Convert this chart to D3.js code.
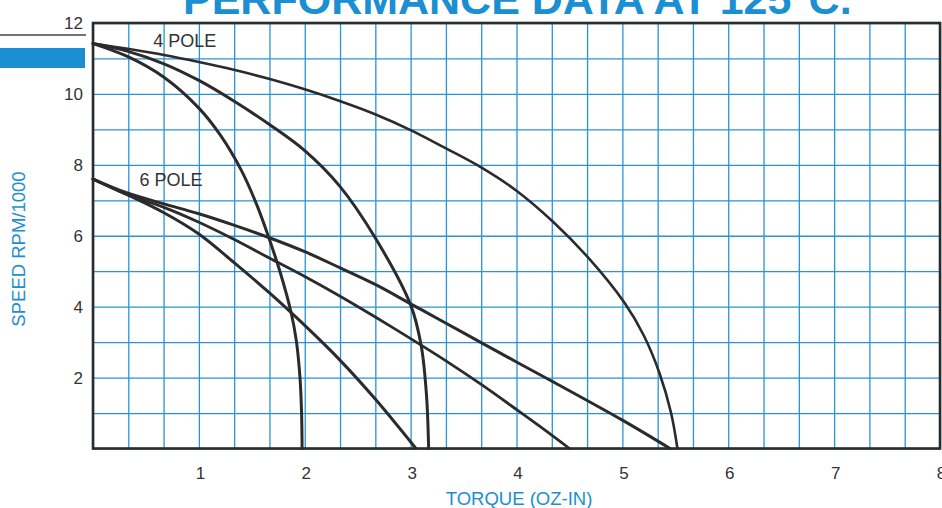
<!DOCTYPE html>
<html>
<head>
<meta charset="utf-8">
<script src="https://cdn.jsdelivr.net/npm/d3@7"></script>
<style>
  html, body { margin: 0; padding: 0; background: #fff; }
  svg { display: block; font-family: "Liberation Sans", Arial, Helvetica, sans-serif; }
</style>
</head>
<body>
<svg id="chart" width="942" height="508"></svg>
<script>
// ---- data (torque oz-in, speed rpm/1000) ----
const xTickValues = [1, 2, 3, 4, 5, 6, 7, 8];
const yTickValues = [2, 4, 6, 8, 10, 12];
const xDomain = [0, 8];
const yDomain = [0, 12];

const pole4_a = [[0,11.42],[0.33,11.05],[0.67,10.47],[1.0,9.6],[1.2,8.85],[1.4,7.85],[1.55,6.85],[1.66,5.95],[1.77,4.95],[1.87,3.85],[1.92,3.05],[1.955,2.0],[1.97,1.0],[1.975,0]];
const pole4_b = [[0,11.42],[0.33,11.2],[0.67,10.85],[1.0,10.38],[1.33,9.8],[1.67,9.13],[2.0,8.4],[2.33,7.4],[2.67,5.92],[3.0,4.05],[3.1,2.9],[3.15,1.5],[3.17,0]];
const pole4_c = [[0,11.42],[0.33,11.27],[0.67,11.1],[1.0,10.9],[1.33,10.68],[1.67,10.42],[2.0,10.13],[2.33,9.8],[2.67,9.42],[3.0,8.98],[3.33,8.47],[3.67,7.92],[4.0,7.27],[4.35,6.38],[4.69,5.34],[5.02,4.11],[5.2,3.2],[5.35,2.13],[5.46,1.0],[5.52,0]];

const pole6_a = [[0,7.6],[0.33,7.15],[0.67,6.65],[1.0,6.05],[1.33,5.25],[1.67,4.38],[2.0,3.47],[2.33,2.5],[2.67,1.38],[3.05,0]];
const pole6_b = [[0,7.6],[0.33,7.15],[0.67,6.8],[1.0,6.38],[1.33,5.9],[1.66,5.38],[2.0,4.85],[2.33,4.3],[2.67,3.7],[3.0,3.1],[3.33,2.48],[3.67,1.8],[4.0,1.1],[4.25,0.56],[4.5,0]];
const pole6_c = [[0,7.6],[0.33,7.2],[0.67,6.9],[1.0,6.62],[1.33,6.3],[1.66,5.95],[2.0,5.55],[2.33,5.1],[2.67,4.62],[3.0,4.08],[3.33,3.54],[3.67,2.98],[4.0,2.44],[4.34,1.89],[5.0,0.8],[5.45,0]];

const labels = [
  { text: "4 POLE", x: 0.57, y: 11.32 },
  { text: "6 POLE", x: 0.44, y: 7.40 }
];
const titleText = "PERFORMANCE DATA AT 125°C.";
const xTitle = "TORQUE (OZ-IN)";
const yTitle = "SPEED RPM/1000";

// ---- drawing ----
const BLUE = "#1b8fd2";
const GRID = "#2a93d5";
const INK = "#2b2b2b";
const svg = d3.select("#chart");

const x = d3.scaleLinear().domain(xDomain).range([93, 940]);
const y = d3.scaleLinear().domain(yDomain).range([448.5, 23]);

// left decoration
svg.append("line").attr("x1", 0).attr("x2", 86).attr("y1", 35).attr("y2", 35)
  .attr("stroke", "#444").attr("stroke-width", 1.5);
svg.append("rect").attr("x", 0).attr("y", 48).attr("width", 85).attr("height", 20).attr("fill", BLUE);

// title (partially cut at top, as in the source)
svg.append("text").attr("x", 183).attr("y", 14)
  .attr("font-size", 43).attr("font-weight", "bold").attr("fill", BLUE)
  .text(titleText);

// grid
const vGrid = d3.range(0, 25).map(i => i / 3);
const hGrid = d3.range(0, 13);
svg.append("g").attr("transform", `translate(0,${y(0)})`)
  .call(d3.axisBottom(x).tickValues(vGrid).tickSize(-(y(0) - y(12))).tickFormat(""))
  .call(g => g.select(".domain").remove())
  .call(g => g.selectAll("line").attr("stroke", GRID).attr("stroke-width", 1.3));
svg.append("g").attr("transform", `translate(${x(0)},0)`)
  .call(d3.axisLeft(y).tickValues(hGrid).tickSize(-(x(8) - x(0))).tickFormat(""))
  .call(g => g.select(".domain").remove())
  .call(g => g.selectAll("line").attr("stroke", GRID).attr("stroke-width", 1.3));

// frame
svg.append("rect").attr("x", x(0)).attr("y", y(12))
  .attr("width", x(8) - x(0)).attr("height", y(0) - y(12))
  .attr("fill", "none").attr("stroke", INK).attr("stroke-width", 2.6);

// tick labels
svg.append("g").attr("transform", `translate(0,${y(0)})`)
  .call(d3.axisBottom(x).tickValues(xTickValues).tickSize(0).tickPadding(18).tickFormat(d3.format("d")))
  .call(g => g.select(".domain").remove())
  .call(g => g.selectAll("text").attr("font-size", 17).attr("fill", "#333")
    .attr("dx", 1).attr("font-family", "Liberation Sans, Arial, sans-serif"));
svg.append("g").attr("transform", `translate(${x(0)},0)`)
  .call(d3.axisLeft(y).tickValues(yTickValues).tickSize(0).tickPadding(10).tickFormat(d3.format("d")))
  .call(g => g.select(".domain").remove())
  .call(g => g.selectAll("text").attr("font-size", 17).attr("fill", "#333")
    .attr("font-family", "Liberation Sans, Arial, sans-serif"));

// axis titles
svg.append("text").attr("x", 519).attr("y", 505).attr("text-anchor", "middle")
  .attr("font-size", 18.5).attr("fill", BLUE).text(xTitle);
svg.append("text").attr("transform", "translate(18,249) rotate(-90)")
  .attr("text-anchor", "middle").attr("dy", "0.36em")
  .attr("font-size", 18.5).attr("fill", BLUE).text(yTitle);

// curves
const line = d3.line().x(d => x(d[0])).y(d => y(d[1])).curve(d3.curveCatmullRom.alpha(0.5));
const series = [
  { data: pole4_a, w: 3 },
  { data: pole4_b, w: 3 },
  { data: pole4_c, w: 2.6 },
  { data: pole6_a, w: 3 },
  { data: pole6_b, w: 2.8 },
  { data: pole6_c, w: 3 }
];
svg.append("g").selectAll("path").data(series).join("path")
  .attr("d", d => line(d.data))
  .attr("fill", "none").attr("stroke", INK)
  .attr("stroke-width", d => d.w).attr("stroke-linecap", "round").attr("stroke-linejoin", "round");

// curve labels
svg.append("g").selectAll("text").data(labels).join("text")
  .attr("x", d => x(d.x)).attr("y", d => y(d.y))
  .attr("font-size", 18).attr("fill", "#333")
  .text(d => d.text);
</script>
</body>
</html>
